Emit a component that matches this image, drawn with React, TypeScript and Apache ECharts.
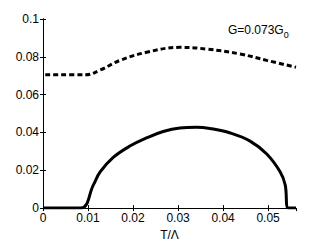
import React, { useEffect, useRef } from "react";
import * as echarts from "echarts";

const solidT = [0, 0.0084, 0.0112, 0.0127, 0.0156, 0.0193, 0.023, 0.0267, 0.0304, 0.0341, 0.0371, 0.0416, 0.046, 0.0497, 0.0527, 0.0538, 0.0545, 0.0562];
const solidG = [0, 0, 0.0123, 0.0191, 0.0268, 0.0328, 0.0371, 0.0405, 0.0424, 0.0428, 0.0421, 0.0397, 0.0354, 0.0286, 0.0191, 0.0123, 0, 0];
const dashT = [0.0005, 0.0095, 0.0127, 0.0171, 0.023, 0.0304, 0.0364, 0.0438, 0.0497, 0.0562];
const dashG = [0.0705, 0.0705, 0.073, 0.0781, 0.0824, 0.085, 0.0841, 0.0815, 0.0781, 0.0745];
const xTicks = [0, 0.01, 0.02, 0.03, 0.04, 0.05];

const FONT = "Liberation Sans, Arial, sans-serif";

export default function App() {
  const ref = useRef<HTMLDivElement>(null);
  useEffect(() => {
    const chart = echarts.init(ref.current!, null, { renderer: "svg" });
    const fmt = (v: number) => String(parseFloat(v.toFixed(4)));
    const xLabel = (v: number) => {
      const r = parseFloat(v.toFixed(4));
      return xTicks.some((t) => Math.abs(t - r) < 1e-6) ? String(r) : "";
    };
    const axisCommon = {
      axisLine: { show: true, lineStyle: { color: "#000", width: 1 } },
      axisTick: { show: true, inside: true, length: 3, lineStyle: { color: "#000" } },
      splitLine: { show: false },
    };
    chart.setOption({
      animation: false,
      grid: { left: 43, right: 31, top: 19, bottom: 32, containLabel: false },
      xAxis: [
        {
          type: "value",
          min: 0,
          max: 0.0562,
          interval: 0.01,
          ...axisCommon,
          axisLabel: { formatter: xLabel, color: "#000", fontSize: 12, fontFamily: FONT, margin: 4, showMaxLabel: false },
          name: "T/Λ",
          nameLocation: "middle",
          nameGap: 17,
          nameTextStyle: { color: "#000", fontSize: 12, fontFamily: FONT },
        },
        {
          type: "value",
          position: "top",
          min: 0,
          max: 0.0562,
          interval: 0.01,
          ...axisCommon,
          axisLabel: { show: false },
        },
      ],
      yAxis: [
        {
          type: "value",
          min: 0,
          max: 0.1,
          interval: 0.02,
          ...axisCommon,
          axisLabel: { formatter: fmt, color: "#000", fontSize: 12, fontFamily: FONT, margin: 4 },
        },
        {
          type: "value",
          position: "right",
          min: 0,
          max: 0.1,
          interval: 0.02,
          ...axisCommon,
          axisLabel: { show: false },
        },
      ],
      series: [
        {
          type: "line",
          data: solidT.map((t, i) => [t, solidG[i]]),
          showSymbol: false,
          smooth: 0.4,
          lineStyle: { color: "#000", width: 3 },
        },
        {
          type: "line",
          data: dashT.map((t, i) => [t, dashG[i]]),
          showSymbol: false,
          smooth: 0.4,
          lineStyle: { color: "#000", width: 3, type: [5, 3] },
        },
      ],
      graphic: [
        {
          type: "text",
          left: 228,
          top: 24,
          style: {
            text: "{a|G=0.073G}{b|0}",
            rich: {
              a: { fontSize: 12, fontFamily: FONT, fill: "#000" },
              b: { fontSize: 9, fontFamily: FONT, fill: "#000", padding: [9, 0, 0, 0] },
            },
          },
        },
      ],
    });
    return () => chart.dispose();
  }, []);
  return <div ref={ref} style={{ position: "absolute", left: 0, top: 0, width: 327, height: 246 }} />;
}
